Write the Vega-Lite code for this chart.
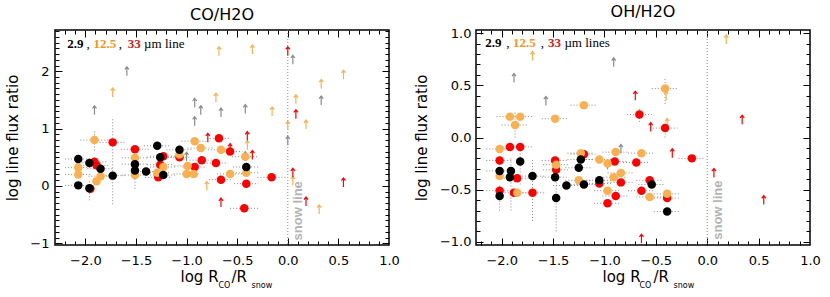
{
"$schema": "https://vega.github.io/schema/vega-lite/v6.json",
"background": "white",
"padding": {"left": 5, "top": 3, "right": 5, "bottom": 5},
"spacing": 12,
"resolve": {"scale": {"x": "independent", "y": "independent", "color": "independent"}},
"config": {
  "view": {"stroke": "black", "strokeWidth": 1.5},
  "axis": {"grid": false, "domain": false, "labelFont": "DejaVu Sans", "labelFontSize": 13, "labelColor": "black", "titleFont": "DejaVu Sans", "titleFontWeight": "normal", "titleColor": "black", "tickColor": "black", "tickWidth": 1, "labelFlush": false, "labelOverlap": false},
  "title": {"font": "DejaVu Sans", "fontSize": 16, "fontWeight": "normal", "anchor": "middle", "offset": 7, "color": "black"},
  "text": {"font": "Liberation Serif", "fontSize": 13}
},
"datasets": {
  "circL": [
    {"x":-1.73,"y":0.76,"c":"33","xl":-1.86,"xh":-1.60,"yl":-0.32,"yh":1.2},
    {"x":-1.51,"y":0.64,"c":"33","xl":-1.65,"xh":-1.37},
    {"x":-1.91,"y":0.42,"c":"33","xl":-2.04,"xh":-1.78},
    {"x":-1.89,"y":0.36,"c":"33","xl":-2.02,"xh":-1.76},
    {"x":-1.95,"y":-0.05,"c":"33"},
    {"x":-1.23,"y":0.52,"c":"33","xl":-1.36,"xh":-1.10},
    {"x":-1.26,"y":0.37,"c":"33","xl":-1.39,"xh":-1.13},
    {"x":-1.28,"y":0.15,"c":"33","xl":-1.41,"xh":-1.15},
    {"x":-0.68,"y":0.83,"c":"33","xl":-0.80,"xh":-0.56},
    {"x":-0.57,"y":0.60,"c":"33","xl":-0.69,"xh":-0.45},
    {"x":-1.07,"y":0.50,"c":"33","xl":-1.19,"xh":-0.95},
    {"x":-0.85,"y":0.45,"c":"33","xl":-0.97,"xh":-0.73},
    {"x":-0.71,"y":0.40,"c":"33","xl":-0.83,"xh":-0.59},
    {"x":-0.92,"y":0.33,"c":"33","xl":-1.04,"xh":-0.80},
    {"x":-0.66,"y":0.11,"c":"33","xl":-0.78,"xh":-0.54},
    {"x":-0.41,"y":0.04,"c":"33","xl":-0.53,"xh":-0.29},
    {"x":-0.43,"y":-0.39,"c":"33","xl":-0.57,"xh":-0.29},
    {"x":-0.16,"y":0.15,"c":"33","xl":-0.30,"xh":-0.02},
    {"x":-1.91,"y":0.80,"c":"12.5","xl":-2.05,"xh":-1.77,"yl":0.62,"yh":0.98},
    {"x":-2.07,"y":0.32,"c":"12.5","xl":-2.20,"xh":-1.94},
    {"x":-2.07,"y":0.20,"c":"12.5","xl":-2.20,"xh":-1.94},
    {"x":-1.85,"y":0.17,"c":"12.5","xl":-1.97,"xh":-1.73},
    {"x":-1.89,"y":0.08,"c":"12.5"},
    {"x":-1.51,"y":0.49,"c":"12.5","xl":-1.64,"xh":-1.38},
    {"x":-1.51,"y":0.19,"c":"12.5","xl":-1.64,"xh":-1.38,"yl":-0.05,"yh":0.3},
    {"x":-1.23,"y":0.33,"c":"12.5","xl":-1.36,"xh":-1.10},
    {"x":-1.29,"y":0.23,"c":"12.5","xl":-1.42,"xh":-1.16},
    {"x":-0.92,"y":0.78,"c":"12.5","xl":-1.05,"xh":-0.79},
    {"x":-0.86,"y":0.66,"c":"12.5","xl":-0.99,"xh":-0.73},
    {"x":-0.66,"y":0.63,"c":"12.5","xl":-0.79,"xh":-0.53},
    {"x":-1.07,"y":0.55,"c":"12.5"},
    {"x":-0.99,"y":0.35,"c":"12.5","xl":-1.12,"xh":-0.86},
    {"x":-1.00,"y":0.21,"c":"12.5","xl":-1.13,"xh":-0.87},
    {"x":-0.93,"y":0.21,"c":"12.5"},
    {"x":-0.57,"y":0.21,"c":"12.5","xl":-0.70,"xh":-0.44},
    {"x":-0.42,"y":0.51,"c":"12.5","xl":-0.55,"xh":-0.29},
    {"x":-0.41,"y":0.23,"c":"12.5","xl":-0.54,"xh":-0.28},
    {"x":-2.07,"y":0.47,"c":"2.9","xl":-2.20,"xh":-1.94},
    {"x":-1.96,"y":0.40,"c":"2.9","xl":-2.09,"xh":-1.83},
    {"x":-1.85,"y":0.30,"c":"2.9","xl":-1.98,"xh":-1.72},
    {"x":-2.07,"y":0.01,"c":"2.9","xl":-2.20,"xh":-1.94},
    {"x":-1.96,"y":-0.04,"c":"2.9","yl":-0.25,"yh":0.1},
    {"x":-1.73,"y":0.18,"c":"2.9","xl":-1.86,"xh":-1.60},
    {"x":-1.51,"y":0.38,"c":"2.9","xl":-1.64,"xh":-1.38},
    {"x":-1.51,"y":0.27,"c":"2.9"},
    {"x":-1.40,"y":0.25,"c":"2.9","xl":-1.52,"xh":-1.28},
    {"x":-1.29,"y":0.70,"c":"2.9","xl":-1.42,"xh":-1.16},
    {"x":-1.26,"y":0.50,"c":"2.9","xl":-1.39,"xh":-1.13},
    {"x":-1.23,"y":0.19,"c":"2.9","xl":-1.36,"xh":-1.10},
    {"x":-1.07,"y":0.63,"c":"2.9","xl":-1.20,"xh":-0.94},
    {"x":-0.41,"y":0.33,"c":"2.9","xl":-0.54,"xh":-0.28}
  ],
  "arrL": [
    {"x":-1.59,"y":2.0,"c":"g"},{"x":-1.91,"y":1.32,"c":"g"},{"x":0.05,"y":2.2,"c":"g"},{"x":0.33,"y":1.49,"c":"g"},
    {"x":0.0,"y":0.79,"c":"g"},{"x":-0.42,"y":1.34,"c":"g"},{"x":-0.66,"y":1.28,"c":"g"},{"x":-0.86,"y":1.32,"c":"g"},
    {"x":-0.92,"y":1.45,"c":"g"},{"x":-0.92,"y":1.13,"c":"g"},{"x":-1.0,"y":0.51,"c":"g"},{"x":-0.42,"y":0.52,"c":"g"},
    {"x":-1.73,"y":1.63,"c":"12.5"},{"x":-0.68,"y":2.35,"c":"12.5"},{"x":-0.35,"y":2.38,"c":"12.5"},{"x":0.55,"y":1.94,"c":"12.5"},
    {"x":0.33,"y":1.78,"c":"12.5"},{"x":0.08,"y":1.51,"c":"12.5"},{"x":0.18,"y":1.07,"c":"12.5"},{"x":0.0,"y":1.05,"c":"12.5"},
    {"x":-0.155,"y":1.30,"c":"12.5"},{"x":-0.71,"y":1.54,"c":"12.5"},{"x":-0.40,"y":0.71,"c":"12.5"},{"x":-0.80,"y":0.0,"c":"12.5"},
    {"x":0.05,"y":0.09,"c":"12.5"},{"x":0.31,"y":-0.41,"c":"12.5"},
    {"x":0.0,"y":2.35,"c":"33"},{"x":0.08,"y":1.25,"c":"33"},{"x":-0.79,"y":0.84,"c":"33"},{"x":-0.40,"y":0.87,"c":"33"},
    {"x":-0.35,"y":0.54,"c":"33"},{"x":-0.57,"y":0.66,"c":"33"},{"x":-0.66,"y":-0.29,"c":"33"},{"x":0.05,"y":0.23,"c":"33"},
    {"x":0.18,"y":-0.27,"c":"33"},{"x":0.55,"y":0.06,"c":"33"}
  ],
  "txtBL": [
    {"x":-2.18,"y":2.41,"t":"2.9","c":"2.9"},
    {"x":-1.92,"y":2.41,"t":"12.5","c":"L12.5"},
    {"x":-1.58,"y":2.41,"t":"33","c":"L33"}
  ],
  "txtNL": [
    {"x":-1.99,"y":2.41,"t":","},
    {"x":-1.67,"y":2.41,"t":","},
    {"x":-1.42,"y":2.41,"t":"µm line"}
  ],
  "snowL": [{"x":0.0,"tx":0.1,"ty":-0.95,"t":"snow line"}],
  "circR": [
    {"x":-0.66,"y":0.22,"c":"33","xl":-0.78,"xh":-0.54,"yl":0.15,"yh":0.28},
    {"x":-0.41,"y":0.09,"c":"33","xl":-0.53,"xh":-0.29,"yl":0.0,"yh":0.15},
    {"x":-1.92,"y":-0.09,"c":"33","xl":-2.05,"xh":-1.79},
    {"x":-1.82,"y":-0.09,"c":"33","xl":-1.95,"xh":-1.69},
    {"x":-1.20,"y":-0.16,"c":"33","xl":-1.33,"xh":-1.07},
    {"x":-2.02,"y":-0.22,"c":"33","xl":-2.15,"xh":-1.89},
    {"x":-1.85,"y":-0.39,"c":"33","xl":-1.98,"xh":-1.72},
    {"x":-2.02,"y":-0.51,"c":"33","xl":-2.15,"xh":-1.89},
    {"x":-1.88,"y":-0.53,"c":"33","xl":-2.0,"xh":-1.76},
    {"x":-1.70,"y":-0.53,"c":"33","xl":-1.83,"xh":-1.57},
    {"x":-1.48,"y":-0.22,"c":"33","xl":-1.61,"xh":-1.35},
    {"x":-1.47,"y":-0.31,"c":"33","xl":-1.60,"xh":-1.34},
    {"x":-1.05,"y":-0.44,"c":"33","xl":-1.18,"xh":-0.92},
    {"x":-0.90,"y":-0.23,"c":"33","xl":-1.03,"xh":-0.77},
    {"x":-0.84,"y":-0.43,"c":"33","xl":-0.97,"xh":-0.71},
    {"x":-0.89,"y":-0.56,"c":"33","xl":-1.02,"xh":-0.76},
    {"x":-0.97,"y":-0.63,"c":"33","xl":-1.10,"xh":-0.84},
    {"x":-0.69,"y":-0.24,"c":"33","xl":-0.82,"xh":-0.56},
    {"x":-0.64,"y":-0.51,"c":"33","xl":-0.77,"xh":-0.51},
    {"x":-0.56,"y":-0.41,"c":"33","xl":-0.69,"xh":-0.43},
    {"x":-0.39,"y":-0.58,"c":"33","xl":-0.52,"xh":-0.26},
    {"x":-0.15,"y":-0.20,"c":"33","xl":-0.28,"xh":-0.02},
    {"x":-1.92,"y":0.20,"c":"12.5","xl":-2.05,"xh":-1.79},
    {"x":-1.82,"y":0.20,"c":"12.5","xl":-1.95,"xh":-1.69},
    {"x":-1.87,"y":0.12,"c":"12.5","xl":-2.0,"xh":-1.74,"yl":0.0,"yh":0.25},
    {"x":-1.48,"y":0.18,"c":"12.5","xl":-1.61,"xh":-1.35},
    {"x":-1.20,"y":0.31,"c":"12.5","xl":-1.33,"xh":-1.07},
    {"x":-0.41,"y":0.47,"c":"12.5","xl":-0.54,"xh":-0.28,"yl":0.32,"yh":0.58},
    {"x":-2.02,"y":-0.11,"c":"12.5","xl":-2.15,"xh":-1.89},
    {"x":-1.23,"y":-0.15,"c":"12.5","xl":-1.36,"xh":-1.10},
    {"x":-0.89,"y":-0.14,"c":"12.5","xl":-1.02,"xh":-0.76},
    {"x":-0.64,"y":-0.15,"c":"12.5","xl":-0.77,"xh":-0.51},
    {"x":-2.02,"y":-0.37,"c":"12.5"},
    {"x":-1.85,"y":-0.53,"c":"12.5"},
    {"x":-1.47,"y":-0.26,"c":"12.5","xl":-1.60,"xh":-1.34},
    {"x":-1.25,"y":-0.41,"c":"12.5","xl":-1.38,"xh":-1.12},
    {"x":-1.05,"y":-0.21,"c":"12.5","xl":-1.18,"xh":-0.92},
    {"x":-0.97,"y":-0.25,"c":"12.5"},
    {"x":-0.91,"y":-0.38,"c":"12.5","xl":-1.04,"xh":-0.78},
    {"x":-0.84,"y":-0.34,"c":"12.5","xl":-0.97,"xh":-0.71},
    {"x":-0.97,"y":-0.51,"c":"12.5","xl":-1.10,"xh":-0.84},
    {"x":-0.56,"y":-0.57,"c":"12.5","xl":-0.69,"xh":-0.43},
    {"x":-0.39,"y":-0.54,"c":"12.5","xl":-0.52,"xh":-0.26},
    {"x":-1.82,"y":-0.23,"c":"2.9","yl":-0.45,"yh":-0.05},
    {"x":-2.02,"y":-0.32,"c":"2.9","xl":-2.15,"xh":-1.89},
    {"x":-1.91,"y":-0.32,"c":"2.9","yl":-0.70,"yh":-0.2},
    {"x":-1.92,"y":-0.38,"c":"2.9"},
    {"x":-1.70,"y":-0.37,"c":"2.9","xl":-1.83,"xh":-1.57,"yl":-0.80,"yh":-0.2},
    {"x":-2.02,"y":-0.56,"c":"2.9","yl":-0.7,"yh":-0.45},
    {"x":-1.48,"y":-0.38,"c":"2.9","xl":-1.61,"xh":-1.35},
    {"x":-1.47,"y":-0.58,"c":"2.9","yl":-0.9,"yh":-0.3},
    {"x":-1.37,"y":-0.46,"c":"2.9","xl":-1.50,"xh":-1.24},
    {"x":-1.23,"y":-0.21,"c":"2.9","xl":-1.36,"xh":-1.10},
    {"x":-1.25,"y":-0.29,"c":"2.9","xl":-1.38,"xh":-1.12},
    {"x":-1.20,"y":-0.45,"c":"2.9","xl":-1.33,"xh":-1.07},
    {"x":-1.05,"y":-0.41,"c":"2.9","xl":-1.18,"xh":-0.92},
    {"x":-0.54,"y":-0.45,"c":"2.9","xl":-0.67,"xh":-0.41},
    {"x":-0.39,"y":-0.71,"c":"2.9","xl":-0.52,"xh":-0.26}
  ],
  "arrR": [
    {"x":-1.88,"y":0.57,"c":"g"},{"x":-1.57,"y":0.35,"c":"g"},{"x":-0.91,"y":0.72,"c":"g"},{"x":-0.84,"y":-0.11,"c":"g"},{"x":-0.97,"y":-0.26,"c":"g"},
    {"x":0.185,"y":0.94,"c":"12.5"},{"x":-1.70,"y":0.78,"c":"12.5"},{"x":-0.40,"y":0.40,"c":"12.5"},{"x":-0.39,"y":0.14,"c":"12.5"},
    {"x":-0.70,"y":0.40,"c":"33"},{"x":-0.55,"y":0.10,"c":"33"},{"x":0.34,"y":0.17,"c":"33"},{"x":-0.34,"y":-0.15,"c":"33"},
    {"x":0.065,"y":-0.34,"c":"33"},{"x":0.55,"y":-0.60,"c":"33"},{"x":-0.64,"y":-0.97,"c":"33"}
  ],
  "txtBR": [
    {"x":-2.16,"y":0.87,"t":"2.9","c":"2.9"},
    {"x":-1.89,"y":0.87,"t":"12.5","c":"L12.5"},
    {"x":-1.55,"y":0.87,"t":"33","c":"L33"}
  ],
  "txtNR": [
    {"x":-1.955,"y":0.87,"t":","},
    {"x":-1.62,"y":0.87,"t":","},
    {"x":-1.39,"y":0.87,"t":"µm lines"}
  ],
  "snowR": [{"x":0.0,"tx":0.1,"ty":-0.98,"t":"snow line"}]
},
"hconcat": [
  {
    "width": 334, "height": 215,
    "title": {"text": "CO/H2O"},
    "resolve": {"axis": {"x": "independent", "y": "independent"}},
    "layer": [
      {
        "data": {"name": "circL"},
        "transform": [{"filter": "isValid(datum.xl)"}],
        "mark": {"type": "rule", "color": "#8a8a8a", "strokeDash": [1, 2], "strokeWidth": 1},
        "encoding": {
          "x": {"field": "xl", "type": "quantitative", "scale": {"domain": [-2.3, 1.0], "nice": false, "zero": false},
                "axis": {"orient": "bottom", "labels": false, "tickSize": 4, "offset": -4, "values": [-2.2,-2.1,-1.9,-1.8,-1.7,-1.6,-1.4,-1.3,-1.2,-1.1,-0.9,-0.8,-0.7,-0.6,-0.4,-0.3,-0.2,-0.1,0.1,0.2,0.3,0.4,0.6,0.7,0.8,0.9],
                         "title": "CO", "titleFontSize": 8, "titleX": 163, "titleY": 46, "titleAlign": "left", "titleBaseline": "alphabetic"}},
          "x2": {"field": "xh"},
          "y": {"field": "y", "type": "quantitative", "scale": {"domain": [-1.03, 2.72], "nice": false, "zero": false},
                "axis": {"orient": "left", "labels": false, "tickSize": 4, "offset": -4, "title": null, "values": [-0.9,-0.8,-0.7,-0.6,-0.5,-0.4,-0.3,-0.2,-0.1,0.1,0.2,0.3,0.4,0.5,0.6,0.7,0.8,0.9,1.1,1.2,1.3,1.4,1.5,1.6,1.7,1.8,1.9,2.1,2.2,2.3,2.4,2.5,2.6,2.7]}}
        }
      },
      {
        "data": {"name": "circL"},
        "transform": [{"filter": "isValid(datum.yl)"}],
        "mark": {"type": "rule", "color": "#8a8a8a", "strokeDash": [1, 2], "strokeWidth": 1},
        "encoding": {
          "x": {"field": "x", "type": "quantitative", "scale": {"domain": [-2.3, 1.0], "nice": false, "zero": false},
                "axis": {"orient": "top", "labels": false, "tickSize": 4, "offset": -4, "title": null, "values": [-2.2,-2.1,-1.9,-1.8,-1.7,-1.6,-1.4,-1.3,-1.2,-1.1,-0.9,-0.8,-0.7,-0.6,-0.4,-0.3,-0.2,-0.1,0.1,0.2,0.3,0.4,0.6,0.7,0.8,0.9]}},
          "y": {"field": "yl", "type": "quantitative", "scale": {"domain": [-1.03, 2.72], "nice": false, "zero": false},
                "axis": {"orient": "right", "labels": false, "tickSize": 4, "offset": -4, "title": null, "values": [-0.9,-0.8,-0.7,-0.6,-0.5,-0.4,-0.3,-0.2,-0.1,0.1,0.2,0.3,0.4,0.5,0.6,0.7,0.8,0.9,1.1,1.2,1.3,1.4,1.5,1.6,1.7,1.8,1.9,2.1,2.2,2.3,2.4,2.5,2.6,2.7]}},
          "y2": {"field": "yh"}
        }
      },
      {
        "data": {"name": "snowL"},
        "mark": {"type": "rule", "color": "#8a8a8a", "strokeDash": [1, 2], "strokeWidth": 1},
        "encoding": {"x": {"field": "x", "type": "quantitative", "axis": null}}
      },
      {
        "data": {"name": "snowL"},
        "mark": {"type": "text", "angle": 270, "align": "left", "baseline": "middle", "font": "Liberation Sans", "fontWeight": "bold", "fontSize": 13, "color": "#b4b4b4"},
        "encoding": {
          "x": {"field": "tx", "type": "quantitative", "axis": null},
          "y": {"field": "ty", "type": "quantitative", "axis": null},
          "text": {"field": "t"}
        }
      },
      {
        "data": {"name": "arrL"},
        "mark": {"type": "point", "shape": "M0,1L0,-1M-0.45,-0.4L0,-1L0.45,-0.4", "filled": false, "size": 81, "strokeWidth": 1.2, "opacity": 1},
        "encoding": {
          "x": {"field": "x", "type": "quantitative", "scale": {"domain": [-2.3, 1.0], "nice": false, "zero": false},
                "axis": {"orient": "top", "labels": false, "tickSize": 7, "offset": -7, "title": "snow", "titleFontSize": 8, "titleX": 196, "titleY": 250, "titleAlign": "left", "titleBaseline": "alphabetic", "values": [-2.0,-1.5,-1.0,-0.5,0,0.5]}},
          "y": {"field": "y", "type": "quantitative", "scale": {"domain": [-1.03, 2.72], "nice": false, "zero": false},
                "axis": {"orient": "right", "labels": false, "tickSize": 7, "offset": -7, "title": null, "values": [-1, 0, 1, 2]}},
          "color": {"field": "c", "type": "nominal", "legend": null,
                    "scale": {"domain": ["2.9", "12.5", "33", "g", "L12.5", "L33"], "range": ["#000000", "#fbb04f", "#ff0000", "#8c8c8c", "#f7941d", "#d7191c"]}}
        }
      },
      {
        "data": {"name": "circL"},
        "mark": {"type": "circle", "size": 72, "opacity": 1},
        "encoding": {
          "x": {"field": "x", "type": "quantitative", "scale": {"domain": [-2.3, 1.0], "nice": false, "zero": false},
                "axis": {"orient": "bottom", "ticks": false, "labelPadding": 9, "format": ".1f", "values": [-2.0,-1.5,-1.0,-0.5,0,0.5,1.0],
                         "title": "log R", "titleFontSize": 15, "titleX": 125, "titleY": 36, "titleAlign": "left", "titleBaseline": "alphabetic"}},
          "y": {"field": "y", "type": "quantitative", "scale": {"domain": [-1.03, 2.72], "nice": false, "zero": false},
                "axis": {"orient": "left", "ticks": false, "labelPadding": 6, "format": "d", "values": [-1, 0, 1, 2],
                         "title": "log line flux ratio", "titleFontSize": 15, "titlePadding": 9}},
          "color": {"field": "c", "type": "nominal", "legend": null,
                    "scale": {"domain": ["2.9", "12.5", "33", "g", "L12.5", "L33"], "range": ["#000000", "#fbb04f", "#ff0000", "#8c8c8c", "#f7941d", "#d7191c"]}}
        }
      },
      {
        "data": {"name": "txtBL"},
        "mark": {"type": "text", "align": "left", "baseline": "alphabetic", "fontWeight": "bold"},
        "encoding": {
          "x": {"field": "x", "type": "quantitative", "scale": {"domain": [-2.3, 1.0], "nice": false, "zero": false},
                "axis": {"orient": "bottom", "labels": false, "tickSize": 7, "offset": -7, "values": [-2.0,-1.5,-1.0,-0.5,0,0.5],
                         "title": "/R", "titleFontSize": 15, "titleX": 176, "titleY": 43, "titleAlign": "left", "titleBaseline": "alphabetic"}},
          "y": {"field": "y", "type": "quantitative", "scale": {"domain": [-1.03, 2.72], "nice": false, "zero": false},
                "axis": {"orient": "left", "labels": false, "tickSize": 7, "offset": -7, "title": null, "values": [-1, 0, 1, 2]}},
          "text": {"field": "t"},
          "color": {"field": "c", "type": "nominal", "legend": null,
                    "scale": {"domain": ["2.9", "12.5", "33", "g", "L12.5", "L33"], "range": ["#000000", "#fbb04f", "#ff0000", "#8c8c8c", "#f7941d", "#d7191c"]}}
        }
      },
      {
        "data": {"name": "txtNL"},
        "mark": {"type": "text", "align": "left", "baseline": "alphabetic", "color": "black"},
        "encoding": {
          "x": {"field": "x", "type": "quantitative", "axis": null},
          "y": {"field": "y", "type": "quantitative", "axis": null},
          "text": {"field": "t"}
        }
      }
    ]
  },
  {
    "width": 334, "height": 215,
    "title": {"text": "OH/H2O"},
    "resolve": {"axis": {"x": "independent", "y": "independent"}},
    "layer": [
      {
        "data": {"name": "circR"},
        "transform": [{"filter": "isValid(datum.xl)"}],
        "mark": {"type": "rule", "color": "#8a8a8a", "strokeDash": [1, 2], "strokeWidth": 1},
        "encoding": {
          "x": {"field": "xl", "type": "quantitative", "scale": {"domain": [-2.25, 1.0], "nice": false, "zero": false},
                "axis": {"orient": "bottom", "labels": false, "tickSize": 4, "offset": -4, "values": [-2.2,-2.1,-1.9,-1.8,-1.7,-1.6,-1.4,-1.3,-1.2,-1.1,-0.9,-0.8,-0.7,-0.6,-0.4,-0.3,-0.2,-0.1,0.1,0.2,0.3,0.4,0.6,0.7,0.8,0.9],
                         "title": "CO", "titleFontSize": 8, "titleX": 163, "titleY": 46, "titleAlign": "left", "titleBaseline": "alphabetic"}},
          "x2": {"field": "xh"},
          "y": {"field": "y", "type": "quantitative", "scale": {"domain": [-1.03, 1.03], "nice": false, "zero": false},
                "axis": {"orient": "left", "labels": false, "tickSize": 4, "offset": -4, "title": null, "values": [-0.9,-0.8,-0.7,-0.6,-0.4,-0.3,-0.2,-0.1,0.1,0.2,0.3,0.4,0.6,0.7,0.8,0.9]}}
        }
      },
      {
        "data": {"name": "circR"},
        "transform": [{"filter": "isValid(datum.yl)"}],
        "mark": {"type": "rule", "color": "#8a8a8a", "strokeDash": [1, 2], "strokeWidth": 1},
        "encoding": {
          "x": {"field": "x", "type": "quantitative", "scale": {"domain": [-2.25, 1.0], "nice": false, "zero": false},
                "axis": {"orient": "top", "labels": false, "tickSize": 4, "offset": -4, "title": null, "values": [-2.2,-2.1,-1.9,-1.8,-1.7,-1.6,-1.4,-1.3,-1.2,-1.1,-0.9,-0.8,-0.7,-0.6,-0.4,-0.3,-0.2,-0.1,0.1,0.2,0.3,0.4,0.6,0.7,0.8,0.9]}},
          "y": {"field": "yl", "type": "quantitative", "scale": {"domain": [-1.03, 1.03], "nice": false, "zero": false},
                "axis": {"orient": "right", "labels": false, "tickSize": 4, "offset": -4, "title": null, "values": [-0.9,-0.8,-0.7,-0.6,-0.4,-0.3,-0.2,-0.1,0.1,0.2,0.3,0.4,0.6,0.7,0.8,0.9]}},
          "y2": {"field": "yh"}
        }
      },
      {
        "data": {"name": "snowR"},
        "mark": {"type": "rule", "color": "#8a8a8a", "strokeDash": [1, 2], "strokeWidth": 1},
        "encoding": {"x": {"field": "x", "type": "quantitative", "axis": null}}
      },
      {
        "data": {"name": "snowR"},
        "mark": {"type": "text", "angle": 270, "align": "left", "baseline": "middle", "font": "Liberation Sans", "fontWeight": "bold", "fontSize": 13, "color": "#b4b4b4"},
        "encoding": {
          "x": {"field": "tx", "type": "quantitative", "axis": null},
          "y": {"field": "ty", "type": "quantitative", "axis": null},
          "text": {"field": "t"}
        }
      },
      {
        "data": {"name": "arrR"},
        "mark": {"type": "point", "shape": "M0,1L0,-1M-0.45,-0.4L0,-1L0.45,-0.4", "filled": false, "size": 81, "strokeWidth": 1.2, "opacity": 1},
        "encoding": {
          "x": {"field": "x", "type": "quantitative", "scale": {"domain": [-2.25, 1.0], "nice": false, "zero": false},
                "axis": {"orient": "top", "labels": false, "tickSize": 7, "offset": -7, "title": "snow", "titleFontSize": 8, "titleX": 197, "titleY": 250, "titleAlign": "left", "titleBaseline": "alphabetic", "values": [-2.0,-1.5,-1.0,-0.5,0,0.5]}},
          "y": {"field": "y", "type": "quantitative", "scale": {"domain": [-1.03, 1.03], "nice": false, "zero": false},
                "axis": {"orient": "right", "labels": false, "tickSize": 7, "offset": -7, "title": null, "values": [-1, -0.5, 0, 0.5, 1]}},
          "color": {"field": "c", "type": "nominal", "legend": null,
                    "scale": {"domain": ["2.9", "12.5", "33", "g", "L12.5", "L33"], "range": ["#000000", "#fbb04f", "#ff0000", "#8c8c8c", "#f7941d", "#d7191c"]}}
        }
      },
      {
        "data": {"name": "circR"},
        "mark": {"type": "circle", "size": 72, "opacity": 1},
        "encoding": {
          "x": {"field": "x", "type": "quantitative", "scale": {"domain": [-2.25, 1.0], "nice": false, "zero": false},
                "axis": {"orient": "bottom", "ticks": false, "labelPadding": 9, "format": ".1f", "values": [-2.0,-1.5,-1.0,-0.5,0,0.5,1.0],
                         "title": "log R", "titleFontSize": 15, "titleX": 126, "titleY": 36, "titleAlign": "left", "titleBaseline": "alphabetic"}},
          "y": {"field": "y", "type": "quantitative", "scale": {"domain": [-1.03, 1.03], "nice": false, "zero": false},
                "axis": {"orient": "left", "ticks": false, "labelPadding": 5, "format": ".1f", "values": [-1, -0.5, 0, 0.5, 1],
                         "title": "log line flux ratio", "titleFontSize": 15, "titlePadding": 10}},
          "color": {"field": "c", "type": "nominal", "legend": null,
                    "scale": {"domain": ["2.9", "12.5", "33", "g", "L12.5", "L33"], "range": ["#000000", "#fbb04f", "#ff0000", "#8c8c8c", "#f7941d", "#d7191c"]}}
        }
      },
      {
        "data": {"name": "txtBR"},
        "mark": {"type": "text", "align": "left", "baseline": "alphabetic", "fontWeight": "bold"},
        "encoding": {
          "x": {"field": "x", "type": "quantitative", "scale": {"domain": [-2.25, 1.0], "nice": false, "zero": false},
                "axis": {"orient": "bottom", "labels": false, "tickSize": 7, "offset": -7, "values": [-2.0,-1.5,-1.0,-0.5,0,0.5],
                         "title": "/R", "titleFontSize": 15, "titleX": 177, "titleY": 43, "titleAlign": "left", "titleBaseline": "alphabetic"}},
          "y": {"field": "y", "type": "quantitative", "scale": {"domain": [-1.03, 1.03], "nice": false, "zero": false},
                "axis": {"orient": "left", "labels": false, "tickSize": 7, "offset": -7, "title": null, "values": [-1, -0.5, 0, 0.5, 1]}},
          "text": {"field": "t"},
          "color": {"field": "c", "type": "nominal", "legend": null,
                    "scale": {"domain": ["2.9", "12.5", "33", "g", "L12.5", "L33"], "range": ["#000000", "#fbb04f", "#ff0000", "#8c8c8c", "#f7941d", "#d7191c"]}}
        }
      },
      {
        "data": {"name": "txtNR"},
        "mark": {"type": "text", "align": "left", "baseline": "alphabetic", "color": "black"},
        "encoding": {
          "x": {"field": "x", "type": "quantitative", "axis": null},
          "y": {"field": "y", "type": "quantitative", "axis": null},
          "text": {"field": "t"}
        }
      }
    ]
  }
]
}
